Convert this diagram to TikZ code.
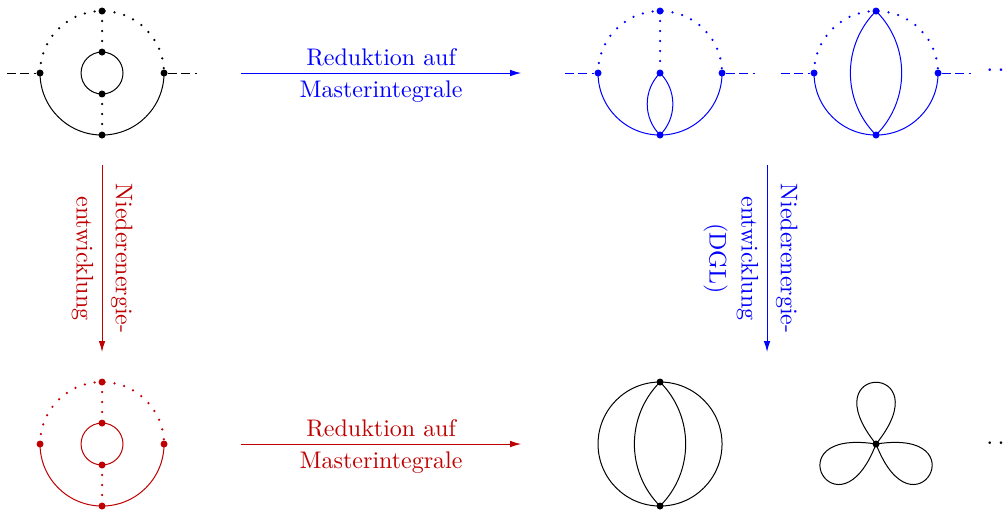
\documentclass[tikz,border=0pt]{standalone}
\usepackage{tikz}
\usetikzlibrary{arrows.meta}

\definecolor{dunkelrot}{rgb}{0.75,0,0}

\tikzset{
    vertex/.style={circle, fill, inner sep=0pt, minimum size=2.8pt},
    punkte/.style={line cap=round, line width=1pt, dash pattern=on 0pt off 4pt},
    pfeil/.style={-{Latex[length=4.4pt,width=2.6pt]}},
    legline/.style={dash pattern=on 3.4pt off 1.9pt, line width=0.4pt},
    klein/.style={font=\fontsize{9.6}{12.8}\selectfont}
}

% Grundgeruest: aeusserer Bogen mit vier Vertices
\newcommand{\grundform}{
    \def\rr{0.872}
    \node[vertex] (t) at (0,\rr) {};
    \node[vertex] (l) at (-\rr,0) {};
    \node[vertex] (r) at (\rr,0) {};
    \node[vertex] (b) at (0,-\rr) {};
    \draw[punkte] (l.center) arc[start angle=180, end angle=0, radius=\rr];
    \draw (l.center) arc[start angle=180, end angle=360, radius=\rr];
}
\newcommand{\beine}{
    \coordinate (la) at (-1.336,0);
    \coordinate (ra) at (1.336,0);
    \draw[legline] (la) -- (l);
    \draw[legline] (r) -- (ra);
}
\newcommand{\innenkreis}{
    \node[vertex] (io) at (0,0.295) {};
    \node[vertex] (iu) at (0,-0.295) {};
    \draw (io.center) arc[start angle=90, end angle=-270, radius=0.295];
    \draw[punkte] (t.center) -- (io.center);
    \draw[punkte] (iu.center) -- (b.center);
}

\begin{document}
\begin{tikzpicture}[every node/.append style={klein}]
    \useasboundingbox (0,0) rectangle (14.163,7.187);

    % Ausgangsdiagramm
    \begin{scope}[shift={(1.435,6.16)}, name prefix=a-]
        \grundform
        \beine
        \innenkreis
    \end{scope}

    % Masterintegrale oben
    \begin{scope}[shift={(9.283,6.16)}, blue, name prefix=b-]
        \grundform
        \beine
        \node[vertex] (m) at (0,0) {};
        \draw[punkte] (t.center) -- (m.center);
        \draw (m.center) to[bend left=45] (b.center);
        \draw (m.center) to[bend right=45] (b.center);
    \end{scope}
    \begin{scope}[shift={(12.321,6.16)}, blue, name prefix=c-]
        \grundform
        \beine
        \draw (t.center) to[bend left=45] (b.center);
        \draw (t.center) to[bend right=45] (b.center);
    \end{scope}
    \node[blue, anchor=base west] (dotsb) at (13.75,6.18) {$\dots$};

    % Niederenergie
    \begin{scope}[shift={(1.435,0.942)}, dunkelrot, name prefix=d-]
        \grundform
        \innenkreis
    \end{scope}

    % Vakuumintegrale
    \begin{scope}[shift={(9.283,0.942)}, name prefix=e-]
        \node[vertex] (t) at (0,0.872) {};
        \node[vertex] (b) at (0,-0.872) {};
        \draw (t.center) arc[start angle=90, end angle=-270, radius=0.872];
        \draw (t.center) to[bend left=45] (b.center);
        \draw (t.center) to[bend right=45] (b.center);
    \end{scope}
    \begin{scope}[shift={(12.321,0.942)}, name prefix=f-]
        \node[vertex] (z) at (0,0) {};
        \foreach \w in {0,120,240}{
            \draw (z.center) to[out=51+\w, in=129+\w, distance=1.49cm] (z.center);
        }
    \end{scope}
    \node[anchor=base west] (dotse) at (13.75,0.942) {$\dots$};

    % Pfeile
    \coordinate (h1a) at (3.39,6.16);
    \coordinate (h1e) at (7.33,6.16);
    \draw[pfeil, blue] (h1a) -- (h1e)
        node[midway, above, text=blue, inner sep=2.6pt] (h1o) {Reduktion auf}
        node[midway, below, text=blue, inner sep=2.8pt] (h1u) {Masterintegrale};

    \coordinate (h2a) at (3.39,0.942);
    \coordinate (h2e) at (7.33,0.942);
    \draw[pfeil, dunkelrot] (h2a) -- (h2e)
        node[midway, above, inner sep=2.6pt] (h2o) {Reduktion auf}
        node[midway, below, inner sep=2.8pt] (h2u) {Masterintegrale};

    \coordinate (v1a) at (1.435,4.866);
    \coordinate (v1e) at (1.435,2.236);
    \draw[pfeil, dunkelrot] (v1a) -- (v1e)
        node[midway, rotate=-90, anchor=south] (v1o) {Niederenergie-}
        node[midway, rotate=-90, anchor=north] (v1u) {entwicklung};

    \coordinate (v2a) at (10.788,4.866);
    \coordinate (v2e) at (10.788,2.236);
    \draw[pfeil, blue] (v2a) -- (v2e)
        node[midway, rotate=-90, anchor=south] (v2o) {Niederenergie-}
        node[midway, rotate=-90, anchor=north, align=center] (v2u) {entwicklung\\(DGL)};
\end{tikzpicture}
\end{document}
